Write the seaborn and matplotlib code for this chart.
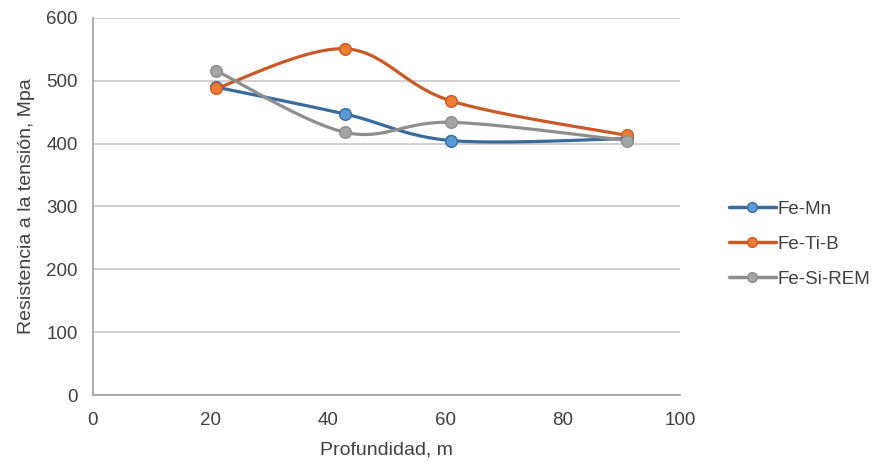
import numpy as np
import pandas as pd
import matplotlib
matplotlib.use("Agg")
import matplotlib.pyplot as plt
from matplotlib.lines import Line2D
import seaborn as sns

depth = [21, 43, 61, 91]
fe_mn = [490, 447, 405, 408]
fe_ti_b = [488, 551, 468, 413]
fe_si_rem = [516, 418, 434, 405]
series_names = ["Fe-Mn", "Fe-Ti-B", "Fe-Si-REM"]
x_ticks = [0, 20, 40, 60, 80, 100]
y_ticks = [0, 100, 200, 300, 400, 500, 600]

line_colors = ["#3a6a99", "#c85a28", "#8e8e8e"]
fill_colors = ["#5b9bd5", "#ed7d31", "#a5a5a5"]

df = pd.DataFrame({
    "Profundidad": depth * 3,
    "Valor": fe_mn + fe_ti_b + fe_si_rem,
    "Serie": sum([[n] * len(depth) for n in series_names], []),
})


def smooth_path(xs, ys, n=40):
    """Cardinal (Catmull-Rom) Bezier path through the points, like a smoothed line chart."""
    p = np.column_stack([xs, ys]).astype(float)
    pts = []
    for i in range(len(p) - 1):
        p0 = p[i - 1] if i > 0 else p[i]
        p1 = p[i]
        p2 = p[i + 1]
        p3 = p[i + 2] if i + 2 < len(p) else p[i + 1]
        c1 = p1 + (p2 - p0) / 6.0
        c2 = p2 - (p3 - p1) / 6.0
        t = np.linspace(0, 1, n)[:, None]
        seg = ((1 - t) ** 3) * p1 + 3 * ((1 - t) ** 2) * t * c1 + 3 * (1 - t) * t ** 2 * c2 + t ** 3 * p2
        pts.append(seg if i == 0 else seg[1:])
    seg = np.vstack(pts)
    return seg[:, 0], seg[:, 1]


sns.set_theme(style="white")
plt.rcParams["font.family"] = ["Liberation Sans", "DejaVu Sans"]

fig = plt.figure(figsize=(8.82, 4.66), dpi=100)
ax = fig.add_axes([93 / 882, 1 - 395 / 466, (680 - 93) / 882, (395 - 18) / 466])

for name, lc in zip(series_names, line_colors):
    sub = df[df["Serie"] == name]
    sx, sy = smooth_path(sub["Profundidad"].values, sub["Valor"].values)
    ax.plot(sx, sy, color=lc, lw=2.3, zorder=3, solid_capstyle="round")

sns.scatterplot(data=df, x="Profundidad", y="Valor", hue="Serie",
                palette=dict(zip(series_names, fill_colors)), s=70,
                edgecolor=None, linewidth=0, legend=False, ax=ax, zorder=4)
# darker outlines on the markers
for name, lc, fc in zip(series_names, line_colors, fill_colors):
    sub = df[df["Serie"] == name]
    ax.scatter(sub["Profundidad"], sub["Valor"], s=70, facecolor=fc,
               edgecolor=lc, linewidth=1.0, zorder=5)

ax.set_xlim(0, 100)
ax.set_ylim(0, 600)
ax.set_xticks(x_ticks)
ax.set_yticks(y_ticks)
ax.tick_params(axis="both", length=0, labelsize=13.5, colors="#404040")
ax.tick_params(axis="x", pad=12)
ax.tick_params(axis="y", pad=11)
ax.yaxis.grid(True, color="#c8c8c8", lw=1.2)
ax.xaxis.grid(False)
for side in ["top", "right"]:
    ax.spines[side].set_visible(False)
for side in ["left", "bottom"]:
    ax.spines[side].set_color("#a0a0a0")
    ax.spines[side].set_linewidth(1.2)

ax.set_xlabel("Profundidad, m", fontsize=14, color="#404040", labelpad=9)
ax.set_ylabel("Resistencia a la tensión, Mpa", fontsize=14, color="#404040", labelpad=8)

handles = [Line2D([0], [0], color=lc, lw=2.5, marker="o", markersize=7,
                  markerfacecolor=fc, markeredgecolor=lc)
           for lc, fc in zip(line_colors, fill_colors)]
fig.legend(handles, series_names, loc="center left", bbox_to_anchor=(712 / 882, 1 - 244 / 466),
           frameon=False, fontsize=13.5, labelspacing=0.95, handlelength=2.5,
           handletextpad=0.1, labelcolor="#404040")

fig.savefig("out.png", dpi=100, facecolor="white")
